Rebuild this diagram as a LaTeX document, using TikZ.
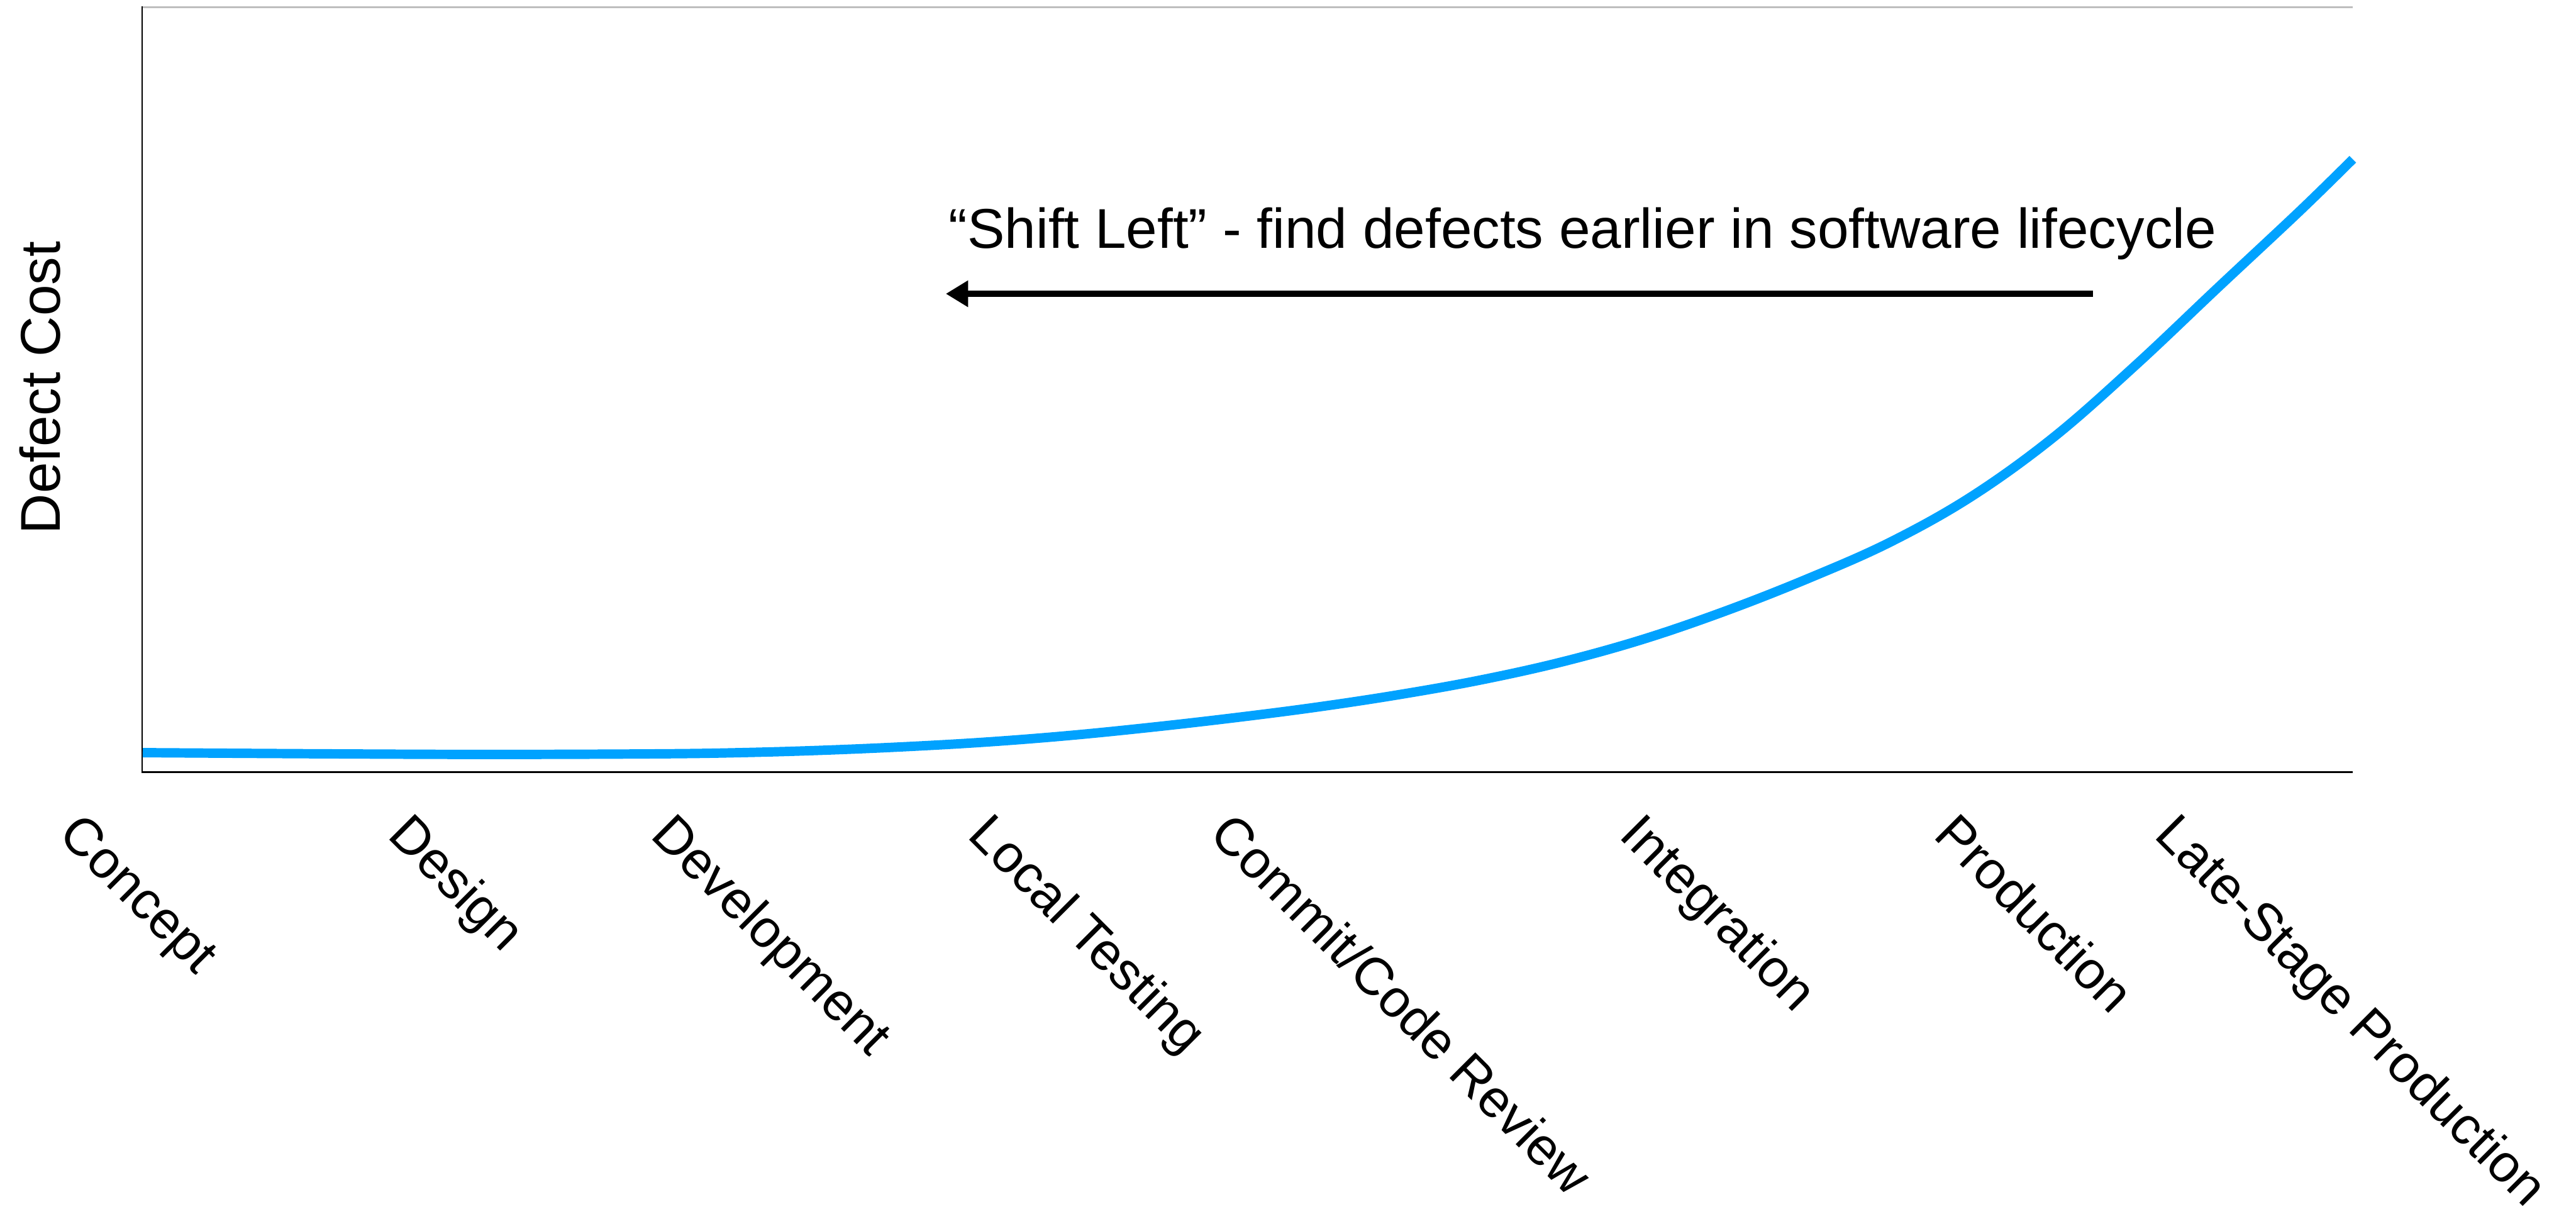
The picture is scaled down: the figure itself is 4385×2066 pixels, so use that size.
\documentclass[tikz,border=0pt]{standalone}
\usepackage{fontspec}
\setmainfont{Liberation Sans}
\usetikzlibrary{arrows.meta}
\definecolor{curveblue}{RGB}{0,162,255}
\definecolor{framegray}{RGB}{190,190,190}
\tikzset{
  lbl/.style={inner sep=0pt, font=\fontsize{9.54pt}{11pt}\selectfont},
  ticklbl/.style={inner sep=0pt, font=\fontsize{9.0pt}{10pt}\selectfont, anchor=base west, rotate=-45},
  axisline/.style={line width=0.3pt, draw=black},
  topline/.style={line width=0.3pt, draw=framegray},
  costcurve/.style={line width=1.6pt, draw=curveblue, line cap=butt},
  shiftarrow/.style={line width=1pt, -{Triangle[length=3.8pt, width=4.3pt]}}
}
\begin{document}
\begin{tikzpicture}[x=0.1pt,y=-0.1pt]
\useasboundingbox (0,0) rectangle (4385,2066);
% axes
\coordinate (O) at (242,1314);
\coordinate (T) at (242,11);
\coordinate (R) at (4005,1314);
\coordinate (TL) at (242,12);
\coordinate (TR) at (4005,12);
\draw[topline] (TL) -- (TR);
\draw[axisline] (T) -- (O) -- (R);
% curve
\draw[costcurve] plot[smooth, tension=0.6] coordinates {
 (243,1281) (559,1283) (839,1284) (1119,1283) (1259,1281) (1398,1277)
 (1538,1271) (1678,1263) (1818,1252) (1958,1238) (2098,1222) (2238,1204)
 (2377,1183) (2517,1158) (2657,1127) (2797,1088) (2937,1040) (3077,985)
 (3217,923) (3356,845) (3496,744) (3636,621) (3776,489) (3916,358) (4005,271)};
% y label
\node[lbl, anchor=base, rotate=90] (ylab) at (102,660) {Defect Cost};
% shift left
\node[lbl, anchor=base west] (shift) at (1613,422) {“Shift Left” - find defects earlier in software lifecycle};
\coordinate (arrS) at (3563,500);
\coordinate (arrE) at (1610,500);
\draw[shiftarrow] (arrS) -- (arrE);
% tick labels
\node[ticklbl] (l1) at (96,1422) {Concept};
\node[ticklbl] (l2) at (656,1423) {Design};
\node[ticklbl] (l3) at (1104,1423) {Development};
\node[ticklbl] (l4) at (1644,1423) {Local Testing};
\node[ticklbl] (l5) at (2055,1422) {Commit/Code Review};
\node[ticklbl] (l6) at (2753,1423) {Integration};
\node[ticklbl] (l7) at (3288,1423) {Production};
\node[ticklbl] (l8) at (3664,1423) {Late-Stage Production};
\end{tikzpicture}
\end{document}
